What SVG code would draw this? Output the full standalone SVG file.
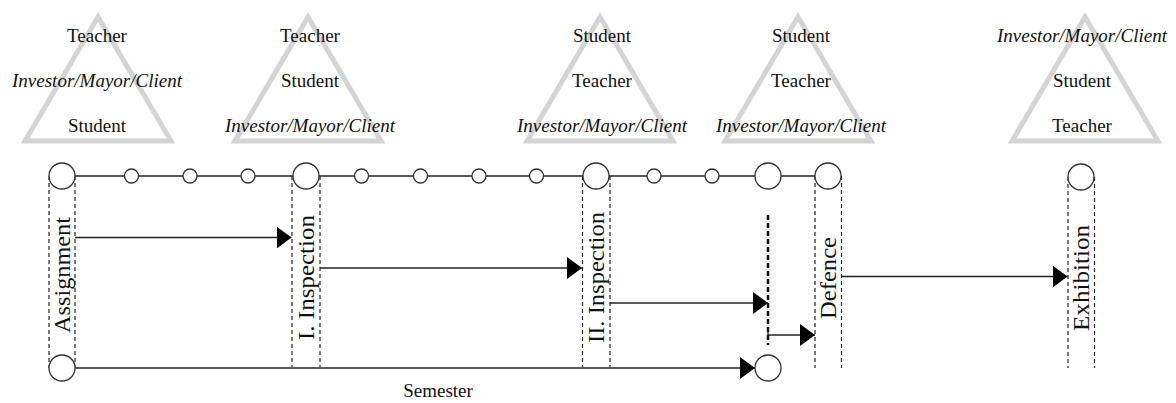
<svg xmlns="http://www.w3.org/2000/svg" width="1176" height="403" viewBox="0 0 1176 403">
<style>
.tri{fill:none;stroke:#d4d4d4;stroke-width:5;stroke-linejoin:miter}
.t{font-family:"Liberation Serif","Times New Roman",serif;font-size:19px;fill:#111;text-anchor:middle}
.i{font-style:italic}
.v{font-family:"Liberation Serif","Times New Roman",serif;font-size:23px;fill:#111;text-anchor:middle}
.c{fill:#fff;stroke:#333;stroke-width:1.3}
.col{fill:none;stroke:#222;stroke-width:1.2;stroke-dasharray:4 3}
.ln{fill:none;stroke:#222;stroke-width:1.4}
.arr{fill:none;stroke:#222;stroke-width:1.4;marker-end:url(#ah)}
.thick{fill:none;stroke:#111;stroke-width:2.5;stroke-dasharray:5 3}
</style>
<defs>
<marker id="ah" markerUnits="userSpaceOnUse" markerWidth="15" markerHeight="22" refX="15" refY="11" orient="auto">
<path d="M0,0 L15,11 L0,22 Z" fill="#000"/>
</marker>
</defs>

<g id="triangle1">
<polygon class="tri" points="98,17 25,141 171,141"/>
<text class="t" x="97" y="42">Teacher</text>
<text class="t i" x="97" y="87">Investor/Mayor/Client</text>
<text class="t" x="97" y="132">Student</text>
</g>
<g id="triangle2">
<polygon class="tri" points="308,17 235,141 381,141"/>
<text class="t" x="310" y="42">Teacher</text>
<text class="t" x="310" y="87">Student</text>
<text class="t i" x="310" y="132">Investor/Mayor/Client</text>
</g>
<g id="triangle3">
<polygon class="tri" points="600,17 527,141 673,141"/>
<text class="t" x="602" y="42">Student</text>
<text class="t" x="602" y="87">Teacher</text>
<text class="t i" x="602" y="132">Investor/Mayor/Client</text>
</g>
<g id="triangle4">
<polygon class="tri" points="798,17 725,141 871,141"/>
<text class="t" x="801" y="42">Student</text>
<text class="t" x="801" y="87">Teacher</text>
<text class="t i" x="801" y="132">Investor/Mayor/Client</text>
</g>
<g id="triangle5">
<polygon class="tri" points="1085,17 1012,141 1158,141"/>
<text class="t i" x="1082" y="42">Investor/Mayor/Client</text>
<text class="t" x="1082" y="87">Student</text>
<text class="t" x="1082" y="132">Teacher</text>
</g>

<g id="connectors">
<line class="ln" x1="62" y1="176" x2="828" y2="176"/>
<line class="arr" x1="75" y1="237.5" x2="291.5" y2="237.5"/>
<line class="arr" x1="320" y1="268" x2="582" y2="268"/>
<line class="arr" x1="610" y1="303" x2="768" y2="303"/>
<line class="thick" x1="768" y1="215" x2="768" y2="345"/>
<polyline class="arr" points="768,327 768,335 815,335"/>
<line class="arr" x1="841.5" y1="276.5" x2="1067.5" y2="276.5"/>
<line class="arr" x1="75" y1="368" x2="755" y2="368"/>
</g>

<g id="assignment">
<line class="col" x1="49" y1="176" x2="49" y2="368"/>
<line class="col" x1="75" y1="176" x2="75" y2="368"/>
<circle class="c" cx="62" cy="176" r="13"/>
<circle class="c" cx="62" cy="368" r="13"/>
<text class="v" transform="translate(70,275) rotate(-90)" textLength="116" lengthAdjust="spacingAndGlyphs">Assignment</text>
</g>
<g id="inspection1">
<line class="col" x1="292" y1="176" x2="292" y2="367"/>
<line class="col" x1="320" y1="176" x2="320" y2="367"/>
<circle class="c" cx="306" cy="176" r="13"/>
<text class="v" transform="translate(314,277.5) rotate(-90)" textLength="125" lengthAdjust="spacingAndGlyphs">I. Inspection</text>
</g>
<g id="inspection2">
<line class="col" x1="582.5" y1="176" x2="582.5" y2="367"/>
<line class="col" x1="610" y1="176" x2="610" y2="367"/>
<circle class="c" cx="596" cy="176" r="13"/>
<text class="v" transform="translate(604,277.5) rotate(-90)" textLength="131" lengthAdjust="spacingAndGlyphs">II. Inspection</text>
</g>
<g id="defence">
<line class="col" x1="815" y1="176" x2="815" y2="368"/>
<line class="col" x1="841.5" y1="176" x2="841.5" y2="368"/>
<circle class="c" cx="828" cy="176" r="13"/>
<text class="v" transform="translate(836,278) rotate(-90)" textLength="82" lengthAdjust="spacingAndGlyphs">Defence</text>
</g>
<g id="exhibition">
<line class="col" x1="1068" y1="177" x2="1068" y2="368"/>
<line class="col" x1="1094.5" y1="177" x2="1094.5" y2="368"/>
<circle class="c" cx="1081" cy="177" r="13"/>
<text class="v" transform="translate(1089,278) rotate(-90)" textLength="106" lengthAdjust="spacingAndGlyphs">Exhibition</text>
</g>
<g id="milestones">
<circle class="c" cx="131.5" cy="176" r="7"/>
<circle class="c" cx="190" cy="176" r="7"/>
<circle class="c" cx="248" cy="176" r="7"/>
<circle class="c" cx="361.5" cy="176" r="7"/>
<circle class="c" cx="420.5" cy="176" r="7"/>
<circle class="c" cx="479" cy="176" r="7"/>
<circle class="c" cx="536.5" cy="176" r="7"/>
<circle class="c" cx="654" cy="176" r="7"/>
<circle class="c" cx="712" cy="176" r="7"/>
<circle class="c" cx="768" cy="176" r="13"/>
</g>
<g id="semester">
<circle class="c" cx="768" cy="368" r="13"/>
<text class="t" x="438" y="397">Semester</text>
</g>
</svg>
